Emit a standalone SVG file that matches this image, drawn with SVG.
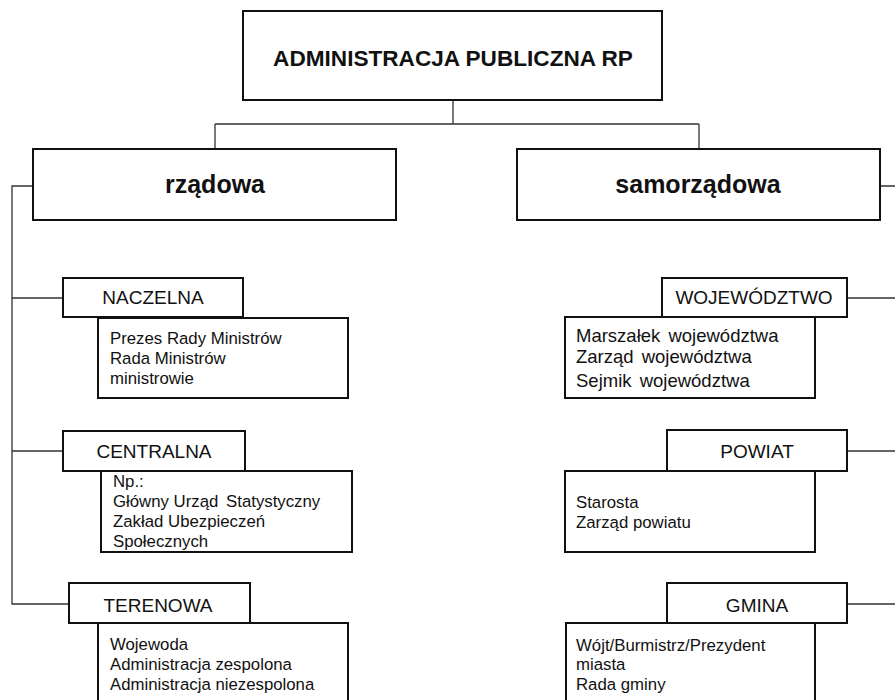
<svg xmlns="http://www.w3.org/2000/svg" width="895" height="700" viewBox="0 0 895 700">
<style>
.box{fill:#fff;stroke:#111;stroke-width:2}
.ln{fill:none;stroke:#333;stroke-width:1.3}
text{font-family:"Liberation Sans",Arial,sans-serif;fill:#111}
.t{font-weight:bold;text-anchor:middle}
.h{font-size:19px;text-anchor:middle}
.d{font-size:16.8px}
.dl{font-size:18.5px;word-spacing:3px}
</style>
<rect width="895" height="700" fill="#fff"/>
<g id="connectors">
<path class="ln" d="M453 100V124M215 124H699M215 124V149M699 124V149"/>
<path class="ln" d="M33 186H12V604H69M12 298H63M12 451H63"/>
<path class="ln" d="M880 186H895M847 298H895M847 451H895M847 604H895"/>
</g>
<g id="root">
<rect class="box" x="243" y="11" width="419" height="89"/>
<text class="t" x="453" y="66" font-size="22.6">ADMINISTRACJA PUBLICZNA RP</text>
</g>
<g id="rzadowa">
<rect class="box" x="33" y="149" width="363" height="71"/>
<text class="t" x="215" y="193" font-size="25">rządowa</text>
</g>
<g id="samorzadowa">
<rect class="box" x="517" y="149" width="363" height="71"/>
<text class="t" x="698" y="193" font-size="25">samorządowa</text>
</g>
<g id="naczelna">
<rect class="box" x="98" y="318" width="250" height="80"/>
<rect class="box" x="63" y="278" width="180" height="39"/>
<text class="h" x="153" y="304">NACZELNA</text>
<text class="d" x="110" y="344">Prezes Rady Ministrów</text>
<text class="d" x="110" y="364">Rada Ministrów</text>
<text class="d" x="110" y="384">ministrowie</text>
</g>
<g id="centralna">
<rect class="box" x="101" y="471" width="251" height="81"/>
<rect class="box" x="63" y="431" width="182" height="40"/>
<text class="h" x="154" y="458">CENTRALNA</text>
<text class="d" x="113" y="487">Np.:</text>
<text class="d" x="113" y="507">Główny Urząd <tspan dx="3">Statystyczny</tspan></text>
<text class="d" x="113" y="527">Zakład Ubezpieczeń</text>
<text class="d" x="113" y="547">Społecznych</text>
</g>
<g id="terenowa">
<rect class="box" x="98" y="623" width="250" height="90"/>
<rect class="box" x="69" y="583" width="181" height="40"/>
<text class="h" x="158" y="612">TERENOWA</text>
<text class="d" x="110" y="650">Wojewoda</text>
<text class="d" x="110" y="670">Administracja zespolona</text>
<text class="d" x="110" y="690">Administracja niezespolona</text>
</g>
<g id="wojewodztwo">
<rect class="box" x="565" y="317" width="250" height="81"/>
<rect class="box" x="662" y="278" width="185" height="39"/>
<text class="h" x="754" y="304">WOJEWÓDZTWO</text>
<text class="dl" x="576" y="342">Marszałek województwa</text>
<text class="dl" x="576" y="363">Zarząd województwa</text>
<text class="dl" x="576" y="387">Sejmik województwa</text>
</g>
<g id="powiat">
<rect class="box" x="565" y="471" width="250" height="81"/>
<rect class="box" x="667" y="430" width="180" height="41"/>
<text class="h" x="757" y="458">POWIAT</text>
<text class="d" x="576" y="508">Starosta</text>
<text class="d" x="576" y="528">Zarząd powiatu</text>
</g>
<g id="gmina">
<rect class="box" x="566" y="623" width="249" height="90"/>
<rect class="box" x="667" y="583" width="180" height="40"/>
<text class="h" x="757" y="612">GMINA</text>
<text class="d" x="576" y="651">Wójt/Burmistrz/Prezydent</text>
<text class="d" x="576" y="670">miasta</text>
<text class="d" x="576" y="690">Rada gminy</text>
</g>
</svg>
